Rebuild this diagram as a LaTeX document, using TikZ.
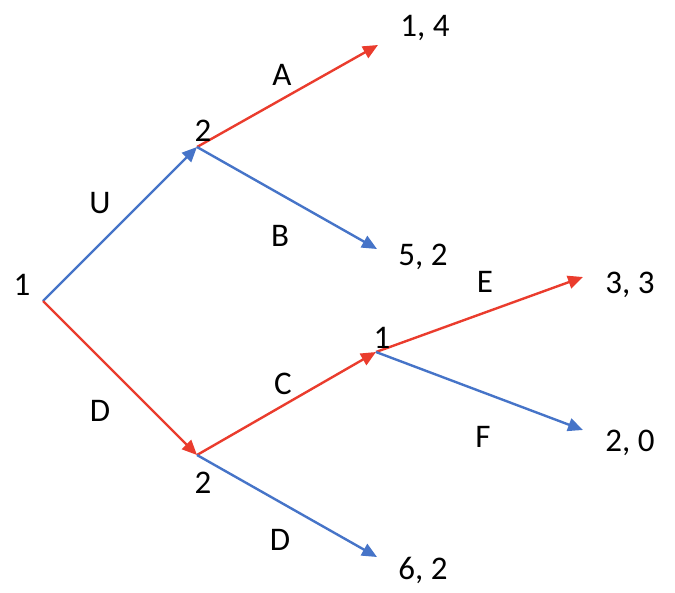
\documentclass[tikz,border=0pt]{standalone}
\usepackage{fontspec}
\setmainfont{Carlito}
\usetikzlibrary{arrows.meta}
\definecolor{movered}{RGB}{234,60,45}
\definecolor{moveblue}{RGB}{70,116,200}
\tikzset{
  mv/.style={line width=2.4pt, -{Triangle[length=15pt,width=13pt]}},
  redmv/.style={mv, draw=movered, fill=movered},
  bluemv/.style={mv, draw=moveblue, fill=moveblue},
  lbl/.style={inner sep=0pt, font=\fontsize{33}{38}\selectfont}
}

\begin{document}
\begin{tikzpicture}[x=1pt,y=-1pt]
  \useasboundingbox (0,0) rectangle (675,592);
  % decision points
  \coordinate (root) at (43,301);
  \coordinate (up) at (197,147);
  \coordinate (down) at (197,455);
  \coordinate (mid) at (376,352);
  % outcomes
  \coordinate (e14) at (378,45);
  \coordinate (e52) at (377,249);
  \coordinate (e33) at (583,277);
  \coordinate (e20) at (583,430);
  \coordinate (e62) at (377,557);

  \draw[bluemv] (root) -- (up);
  \draw[redmv] (root) -- (down);
  \draw[redmv] (up) -- (e14);
  \draw[bluemv] (up) -- (e52);
  \draw[redmv] (down) -- (mid);
  \draw[bluemv] (down) -- (e62);
  \draw[redmv] (mid) -- (e33);
  \draw[bluemv] (mid) -- (e20);

  % players
  \node[lbl] (plroot) at (22,285) {1};
  \node[lbl] (plup) at (203,131) {2};
  \node[lbl] (pldown) at (203,483) {2};
  \node[lbl] (plmid) at (382,338) {1};
  % actions
  \node[lbl] (actU) at (100,203) {U};
  \node[lbl] (actD) at (100,411) {D};
  \node[lbl] (actA) at (282,75) {A};
  \node[lbl] (actB) at (280,236) {B};
  \node[lbl] (actC) at (283,384) {C};
  \node[lbl] (actDD) at (280,540) {D};
  \node[lbl] (actE) at (485,282) {E};
  \node[lbl] (actF) at (483,437) {F};
  % payoffs
  \node[lbl] (pay14) at (425,28) {1, 4};
  \node[lbl] (pay52) at (423,257) {5, 2};
  \node[lbl] (pay33) at (630,285) {3, 3};
  \node[lbl] (pay20) at (630,443) {2, 0};
  \node[lbl] (pay62) at (423,570) {6, 2};
\end{tikzpicture}
\end{document}
